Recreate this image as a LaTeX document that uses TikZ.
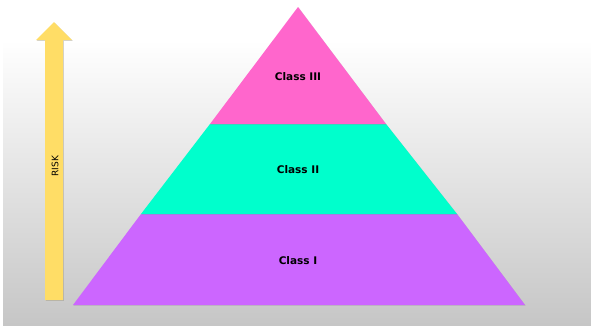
\documentclass[tikz,border=0pt]{standalone}
\usepackage{fontspec}
\setmainfont{DejaVu Sans}
\usetikzlibrary{calc,shadows}
\definecolor{tierthree}{HTML}{FF66CC}
\definecolor{tiertwo}{HTML}{00FFCC}
\definecolor{tierone}{HTML}{CC66FF}
\definecolor{riskyellow}{HTML}{FFDD66}
\definecolor{bggray}{HTML}{C6C6C6}
\tikzset{
  tier/.style={font=\fontsize{10.5}{12}\selectfont\bfseries},
  slab/.style={drop shadow={shadow xshift=0.6pt,shadow yshift=-0.6pt,opacity=0.3}}
}

\begin{document}
\begin{tikzpicture}[x=1pt,y=-1pt]
  \useasboundingbox (0,0) rectangle (591,327);
  % background
  \fill[white] (0,0) rectangle (591,327);
  \shade[top color=white,bottom color=bggray] (3,40) rectangle (591,325);
  % pyramid corners
  \coordinate (A) at (298,7);
  \coordinate (L1) at (73,305); \coordinate (R1) at (525,305);
  \coordinate (L2) at (141,214); \coordinate (R2) at (457,214);
  \coordinate (L3) at (210,124); \coordinate (R3) at (386,124);
  \fill[tierone,slab] (L1)--(R1)--(R2)--(L2)--cycle;
  \fill[tiertwo,slab] (L2)--(R2)--(R3)--(L3)--cycle;
  \fill[tierthree,slab] (L3)--(R3)--(A)--cycle;
  \node[tier] (c3) at (298,77) {Class III};
  \node[tier] (c2) at (298,170) {Class II};
  \node[tier] (c1) at (298,261) {Class I};
  % risk arrow
  \fill[riskyellow,drop shadow={shadow xshift=0.8pt,shadow yshift=-0.8pt,opacity=0.35}]
    (45,300)--(63,300)--(63,40)--(72,40)--(54,22)--(36,40)--(45,40)--cycle;
  \node[rotate=90,font=\fontsize{9}{11}\selectfont] (risk) at (55,166) {RISK};
\end{tikzpicture}
\end{document}
